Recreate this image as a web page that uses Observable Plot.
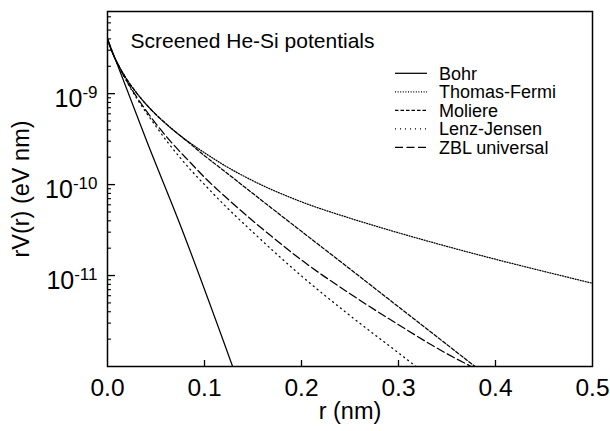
<!DOCTYPE html>
<html><head><meta charset="utf-8">
<script src="https://cdn.jsdelivr.net/npm/d3@7"></script>
<script src="https://cdn.jsdelivr.net/npm/@observablehq/plot@0.6"></script>
<style>
html,body{margin:0;padding:0;background:#fff;}
#chart svg{font-family:"Liberation Sans",Arial,Helvetica,sans-serif;}
</style></head><body><div id="chart"></div>
<script>
// ---- data ----
const seriesNames = ["Bohr", "Thomas-Fermi", "Moliere", "Lenz-Jensen", "ZBL universal"];

const bohrR = [0, 0.041, 0.075, 0.129];
const bohrV = [4.0e-9, 2.9e-10, 3.6e-11, 1.0e-12];

const tfR = [0, 0.005, 0.01, 0.02, 0.029, 0.04, 0.05, 0.065, 0.0856, 0.1, 0.12, 0.15, 0.2, 0.25, 0.3, 0.35, 0.4, 0.45, 0.5];
const tfV = [4.0e-9, 2.83e-9, 2.19e-9, 1.43e-9, 1.05e-9, 7.59e-10, 5.89e-10, 4.22e-10, 2.85e-10, 2.24e-10, 1.64e-10, 1.10e-10, 6.46e-11, 4.27e-11, 2.95e-11, 2.09e-11, 1.51e-11, 1.11e-11, 8.22e-12];

const molR = [0, 0.005, 0.01, 0.02, 0.029, 0.04, 0.05, 0.065, 0.0856, 0.1, 0.12, 0.15, 0.2, 0.25, 0.3, 0.35, 0.38];
const molV = [4.0e-9, 2.83e-9, 2.19e-9, 1.43e-9, 1.05e-9, 7.59e-10, 5.89e-10, 4.22e-10, 2.79e-10, 2.08e-10, 1.42e-10, 7.96e-11, 3.06e-11, 1.18e-11, 4.53e-12, 1.74e-12, 9.8e-13];

const ljR = [0, 0.005, 0.01, 0.02, 0.03, 0.04, 0.05, 0.062, 0.075, 0.0876, 0.1, 0.12, 0.15, 0.175, 0.2, 0.25, 0.3, 0.318];
const ljV = [4.0e-9, 2.82e-9, 2.14e-9, 1.35e-9, 8.91e-10, 6.17e-10, 4.37e-10, 2.92e-10, 1.97e-10, 1.38e-10, 1.0e-10, 6.03e-11, 2.99e-11, 1.70e-11, 9.89e-12, 3.63e-12, 1.41e-12, 1.0e-12];

const zblR = [0, 0.005, 0.01, 0.02, 0.029, 0.04, 0.05, 0.068, 0.0856, 0.1, 0.12, 0.15, 0.175, 0.2, 0.25, 0.3, 0.35, 0.375];
const zblV = [4.0e-9, 2.86e-9, 2.17e-9, 1.37e-9, 9.59e-10, 6.46e-10, 4.66e-10, 2.75e-10, 1.74e-10, 1.20e-10, 7.59e-11, 3.98e-11, 2.40e-11, 1.48e-11, 6.31e-12, 2.88e-12, 1.38e-12, 1.0e-12];

const xTickValues = [0, 0.1, 0.2, 0.3, 0.4, 0.5];
const xInnerTicks = [0.1, 0.2, 0.3, 0.4];
const yMajorTicks = [1e-11, 1e-10, 1e-9];
const yMinorMultipliers = [2, 3, 4, 5, 6, 7, 8, 9];
const yDecades = [1e-12, 1e-11, 1e-10, 1e-9];

const titleText = "Screened He-Si potentials";
const xLabel = "r (nm)";
const yLabel = "rV(r) (eV nm)";

// ---- build tables ----
const pairs = (name, R, V) => R.map((r, i) => ({name, r, v: V[i]}));
const tables = {
  "Bohr": pairs("Bohr", bohrR, bohrV),
  "Thomas-Fermi": pairs("Thomas-Fermi", tfR, tfV),
  "Moliere": pairs("Moliere", molR, molV),
  "Lenz-Jensen": pairs("Lenz-Jensen", ljR, ljV),
  "ZBL universal": pairs("ZBL universal", zblR, zblV)
};
const dashes = {
  "Bohr": null,
  "Thomas-Fermi": "1,1.6",
  "Moliere": "3.5,2",
  "Lenz-Jensen": "1,4",
  "ZBL universal": "8,3.5"
};
const yMinorTicks = [];
yDecades.forEach(d => yMinorMultipliers.forEach(m => { const v = d * m; if (v <= 8.01e-9) yMinorTicks.push(v); }));

const W = 610, H = 431;
const lineMarks = seriesNames.map(n => Plot.line(tables[n], {
  x: "r", y: "v", curve: "monotone-x", stroke: "black", strokeWidth: 1.25,
  strokeDasharray: dashes[n] || undefined, clip: true
}));

const chart = Plot.plot({
  width: W, height: H,
  marginLeft: 107, marginRight: 18, marginTop: 11, marginBottom: 65,
  x: {domain: [0, 0.5]},
  y: {type: "log", domain: [1e-12, 8e-9]},
  style: {fontFamily: "Liberation Sans, Arial, Helvetica, sans-serif", fontSize: "24px", color: "#000", background: "#fff"},
  marks: [
    ...lineMarks,
    Plot.axisX({ticks: xTickValues, tickSize: 0, tickPadding: 12, tickFormat: d => d.toFixed(1), label: null, fontSize: 24.5}),
    Plot.axisX({ticks: xInnerTicks, tickSize: -6, fill: "none", label: null, strokeWidth: 1.3}),
    Plot.axisY({ticks: yMajorTicks, tickSize: 0, tickPadding: 10, dy: 5, tickFormat: d => "10^" + Math.round(Math.log10(d)), label: null, fontSize: 25}),
    Plot.axisY({ticks: yMajorTicks, tickSize: -8, fill: "none", label: null, strokeWidth: 1.3}),
    Plot.axisY({ticks: yMinorTicks, tickSize: -4, fill: "none", label: null, strokeWidth: 1.1}),
    Plot.frame({stroke: "black", strokeWidth: 1.5}),
    Plot.text([titleText], {text: d => d, frameAnchor: "top-left", dx: 23, dy: 36, lineAnchor: "bottom", textAnchor: "start", fontSize: 21}),
    Plot.text([xLabel], {text: d => d, frameAnchor: "bottom", dy: 52, lineAnchor: "bottom", fontSize: 23.5}),
    Plot.text([yLabel], {text: d => d, frameAnchor: "left", dx: -86, rotate: -90, lineAnchor: "middle", textAnchor: "middle", fontSize: 23.5})
  ]
});

// superscript exponents on y tick labels
d3.select(chart).selectAll('g[aria-label="y-axis tick label"] text').each(function () {
  const parts = this.textContent.split("^");
  const sel = d3.select(this);
  sel.text(parts[0]);
  sel.append("tspan").attr("dy", "-0.5em").attr("font-size", "17px").text(parts[1]);
});

// legend
const svg = d3.select(chart);
const lg = svg.append("g").attr("aria-label", "legend").attr("text-anchor", "start");
const legendX0 = 395, legendX1 = 427, legendTextX = 439, legendY0 = 73.3, legendStep = 18.5;
seriesNames.forEach((n, i) => {
  const y = legendY0 + i * legendStep;
  lg.append("line").attr("x1", legendX0).attr("x2", legendX1).attr("y1", y).attr("y2", y)
    .attr("stroke", "black").attr("stroke-width", 1.25)
    .attr("stroke-dasharray", dashes[n] || null);
  lg.append("text").attr("x", legendTextX).attr("y", y).attr("dy", "0.37em")
    .attr("text-anchor", "start").attr("font-size", 18).attr("fill", "black").text(n);
});

document.getElementById("chart").appendChild(chart);
</script></body></html>
